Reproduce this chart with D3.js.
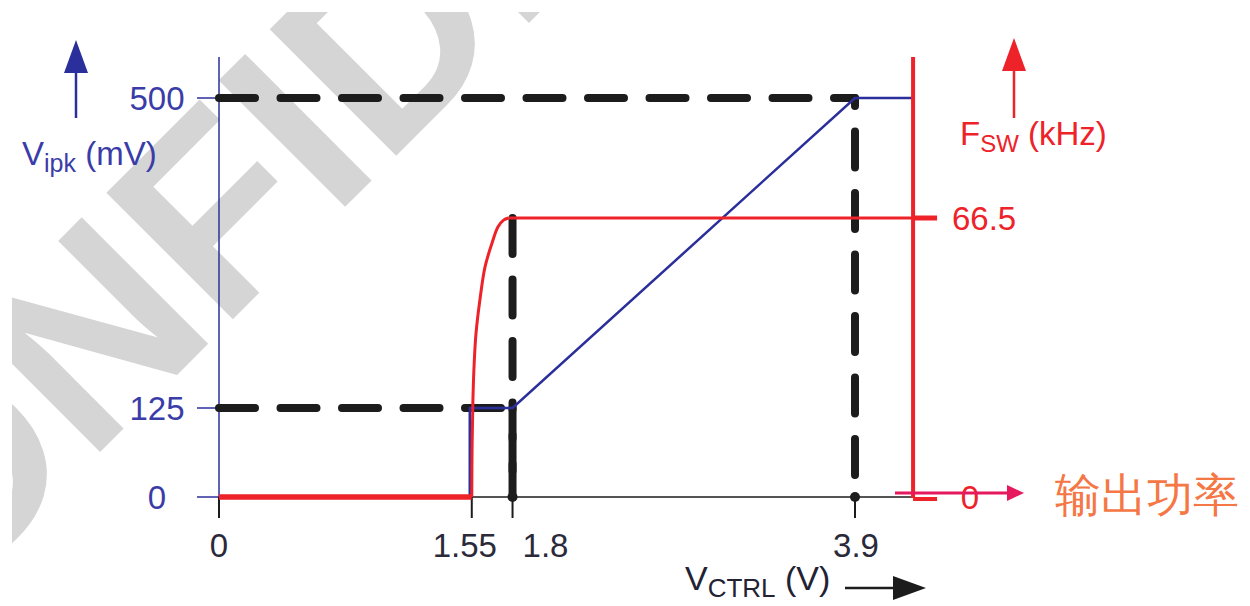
<!DOCTYPE html>
<html>
<head>
<meta charset="utf-8">
<script src="https://cdn.jsdelivr.net/npm/d3@7"></script>
<style>
  html, body { margin: 0; padding: 0; background: #ffffff; }
  svg { display: block; }
  text { font-family: "Liberation Sans", Arial, Helvetica, sans-serif; }
</style>
</head>
<body>
<div id="chart"></div>
<script>
// ---------- data ----------
const xTicks = [0, 1.55, 1.8, 3.9];
const xTickLabels = ["0", "1.55", "1.8", "3.9"];
const vipkTicks = [0, 125, 500];
const vipkTickLabels = ["0", "125", "500"];
const fswTicks = [0, 66.5];
const fswTickLabels = ["0", "66.5"];

// V_ipk (mV) versus V_CTRL (V)
const vipkX = [0, 1.55, 1.55, 1.8, 3.9, 4.25];
const vipkY = [0, 0, 125, 125, 500, 500];

// F_SW (kHz) versus V_CTRL (V)
const fswX = [0, 1.55, 1.552, 1.557, 1.565, 1.576, 1.6, 1.631, 1.674, 1.711, 1.745, 1.775, 1.8, 4.25];
const fswY = [0, 0, 12, 23, 32, 39, 47, 54.8, 60.5, 64.4, 66.0, 66.5, 66.5, 66.5];

// dashed guide lines
const guideVipkLevels = [500, 125];     // horizontal guides (mV)
const guideVipkEnds = [3.9, 1.8];       // where each guide ends (V)
const guideVerticalX = [1.8, 3.9];      // vertical guides (V)
const markerDots = [1.8, 3.9];

const xMax = 4.25;
const titleVipk = ["V", "ipk", " (mV)"];
const titleFsw = ["F", "SW", " (kHz)"];
const titleVctrl = ["V", "CTRL", " (V)"];
const noteText = "输出功率";
const watermarkText = "CONFIDENTIAL";

// ---------- drawing ----------
const W = 1250, H = 606;
const BLUE = "#2b2f9b", BLUE_T = "#3a3ca8", RED = "#ee2229", BLACK = "#1c1c1c";

const svg = d3.select("#chart").append("svg").attr("width", W).attr("height", H);

const x = d3.scaleLinear().domain([0, 3.9]).range([219, 855]);
const yV = d3.scaleLinear().domain([0, 125, 500]).range([497, 408, 98]);
const yF = d3.scaleLinear().domain([0, 66.5]).range([497, 218]);

// watermark
svg.append("defs").append("clipPath").attr("id", "wmclip")
  .append("rect").attr("x", 12).attr("y", 12).attr("width", W - 12).attr("height", H - 12);
svg.append("g").attr("clip-path", "url(#wmclip)")
  .append("text")
  .attr("transform", "translate(-188,740) rotate(-45)")
  .attr("font-size", 260).attr("font-weight", "bold")
  .attr("fill", "#d5d5d5")
  .text(watermarkText);

// y axis (left, blue)
svg.append("line").attr("x1", x(0)).attr("x2", x(0)).attr("y1", 57).attr("y2", yV(0))
  .attr("stroke", BLUE).attr("stroke-width", 1.5);
svg.selectAll(".vtick").data(vipkTicks).enter().append("line")
  .attr("x1", x(0) - 22).attr("x2", x(0)).attr("y1", d => yV(d)).attr("y2", d => yV(d))
  .attr("stroke", BLUE).attr("stroke-width", 1.5);
svg.selectAll(".vlab").data(vipkTicks).enter().append("text")
  .attr("x", 157).attr("y", d => yV(d)).attr("dy", "0.36em")
  .attr("text-anchor", "middle").attr("font-size", 33).attr("fill", BLUE_T)
  .text((d, i) => vipkTickLabels[i]);

// x axis
svg.append("line").attr("x1", x(0)).attr("x2", x(xMax)).attr("y1", yV(0)).attr("y2", yV(0))
  .attr("stroke", BLACK).attr("stroke-width", 1.5);
svg.selectAll(".xtick").data(xTicks).enter().append("line")
  .attr("x1", d => x(d)).attr("x2", d => x(d)).attr("y1", yV(0)).attr("y2", yV(0) + 21)
  .attr("stroke", BLACK).attr("stroke-width", 2);
const xLabelShift = {"0": 0, "1.55": -7, "1.8": 33, "3.9": 1};
svg.selectAll(".xlab").data(xTicks).enter().append("text")
  .attr("x", (d, i) => x(d) + xLabelShift[xTickLabels[i]]).attr("y", 545).attr("dy", "0.36em")
  .attr("text-anchor", "middle").attr("font-size", 33).attr("fill", "#2a2a3a")
  .text((d, i) => xTickLabels[i]);

// dashed guides
const dash = "36 25.5";
const guides = svg.append("g").attr("stroke", BLACK).attr("stroke-width", 8)
  .attr("stroke-linecap", "round").attr("stroke-dasharray", dash).attr("fill", "none");
guideVipkLevels.forEach((v, i) => {
  guides.append("line").attr("x1", x(0)).attr("x2", x(guideVipkEnds[i]))
    .attr("y1", yV(v)).attr("y2", yV(v));
});
// vertical at 1.8 from F_SW = 66.5 down, plus the 125 mV drop
guides.append("line").attr("x1", x(guideVerticalX[0])).attr("x2", x(guideVerticalX[0]))
  .attr("y1", yF(66.5)).attr("y2", yV(0));
guides.append("line").attr("x1", x(guideVerticalX[0])).attr("x2", x(guideVerticalX[0]))
  .attr("y1", yV(125)).attr("y2", yV(0)).attr("stroke-dashoffset", 34.5);
// vertical at 3.9 from 500 mV down
guides.append("line").attr("x1", x(guideVerticalX[1])).attr("x2", x(guideVerticalX[1]))
  .attr("y1", yV(500)).attr("y2", yV(0) - 14).attr("stroke-dashoffset", 28);

svg.selectAll(".dot").data(markerDots).enter().append("circle")
  .attr("cx", d => x(d)).attr("cy", yV(0)).attr("r", 5).attr("fill", BLACK);

// V_ipk curve
const vipkData = vipkX.map((v, i) => [v, vipkY[i]]);
svg.append("path").datum(vipkData)
  .attr("d", d3.line().x(d => x(d[0]) - (d[0] === 1.55 ? 2 : 0)).y(d => yV(d[1])))
  .attr("fill", "none").attr("stroke", BLUE).attr("stroke-width", 2.5);

// F_SW curve: flat parts straight, the rise smoothed
const fswData = fswX.map((v, i) => [v, fswY[i]]);
const riseStart = fswData.findIndex(d => d[1] > 0) - 1;
const riseEnd = fswData.findIndex(d => d[1] === d3.max(fswY));
const fswG = svg.append("g").attr("fill", "none").attr("stroke", RED);
fswG.append("path").datum(fswData.slice(riseStart, riseEnd + 1))
  .attr("d", d3.line().x(d => x(d[0])).y(d => yF(d[1])).curve(d3.curveCatmullRom.alpha(0.5)))
  .attr("stroke-width", 3);
fswG.append("path").datum(fswData.slice(riseEnd))
  .attr("d", d3.line().x(d => x(d[0])).y(d => yF(d[1])))
  .attr("stroke-width", 3);
fswG.append("path").datum(fswData.slice(0, riseStart + 1))
  .attr("d", d3.line().x(d => x(d[0])).y(d => yF(d[1])))
  .attr("stroke-width", 5.5);

// right axis (red)
const xR = x(xMax) + 1;
svg.append("line").attr("x1", xR).attr("x2", xR).attr("y1", 57).attr("y2", yF(0) + 1)
  .attr("stroke", RED).attr("stroke-width", 4);
svg.selectAll(".ftick").data(fswTicks).enter().append("line")
  .attr("x1", xR).attr("x2", xR + 24).attr("y1", d => yF(d) + (d === 0 ? 2 : 0)).attr("y2", d => yF(d) + (d === 0 ? 2 : 0))
  .attr("stroke", RED).attr("stroke-width", d => d === 0 ? 4 : 5);
svg.selectAll(".flab").data(fswTicks).enter().append("text")
  .attr("x", (d, i) => d === 0 ? 970 : 952).attr("y", d => yF(d)).attr("dy", "0.36em")
  .attr("text-anchor", d => d === 0 ? "middle" : "start")
  .attr("font-size", 33).attr("fill", RED)
  .text((d, i) => fswTickLabels[i]);

// axis titles with arrows
function title(parts, tx, ty, color, fs, sfs) {
  const t = svg.append("text").attr("x", tx).attr("y", ty).attr("fill", color).attr("font-size", fs);
  t.append("tspan").text(parts[0]);
  t.append("tspan").attr("font-size", sfs).attr("dy", 7).text(parts[1]);
  t.append("tspan").attr("dy", -7).text(parts[2]);
}
title(titleVipk, 22, 165, BLUE_T, 33, 25);
title(titleFsw, 960, 145, RED, 33, 24);
title(titleVctrl, 685, 590, "#222233", 34, 26);

function upArrow(cx, tip, bottom, color) {
  svg.append("line").attr("x1", cx).attr("x2", cx).attr("y1", bottom).attr("y2", tip + 25)
    .attr("stroke", color).attr("stroke-width", 2.5);
  svg.append("path").attr("d", `M${cx},${tip} L${cx - 12},${tip + 33} L${cx + 12},${tip + 33} Z`).attr("fill", color);
}
upArrow(76, 40, 118, BLUE);
upArrow(1014, 38, 118, RED);

// x-axis arrow
svg.append("line").attr("x1", 845).attr("x2", 900).attr("y1", 588).attr("y2", 588)
  .attr("stroke", BLACK).attr("stroke-width", 2.5);
svg.append("path").attr("d", "M893,576 L926,588 L893,600 Z").attr("fill", BLACK);

// annotation arrow + note
const PINK = "#e6195e";
svg.append("line").attr("x1", 895).attr("x2", 1012).attr("y1", 493).attr("y2", 493)
  .attr("stroke", PINK).attr("stroke-width", 3);
svg.append("path").attr("d", "M1007,485 L1024,493 L1007,501 Z").attr("fill", PINK);
svg.append("text").attr("x", 1055).attr("y", 494).attr("dy", "0.36em")
  .attr("font-family", "'Noto Serif CJK SC', 'Noto Sans CJK SC', serif").attr("font-size", 46)
  .attr("fill", "#f47745").text(noteText);
</script>
</body>
</html>
